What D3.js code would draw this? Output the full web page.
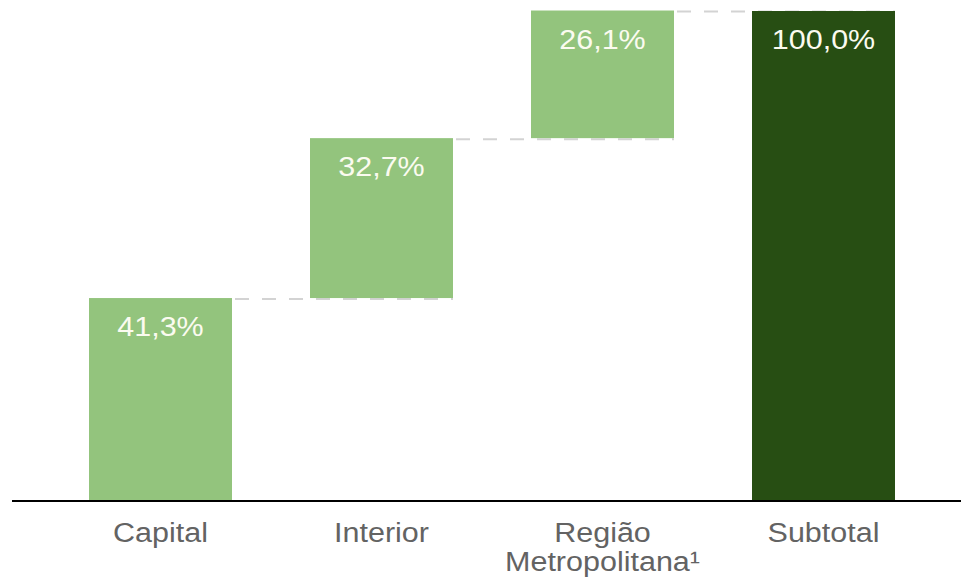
<!DOCTYPE html>
<html>
<head>
<meta charset="utf-8">
<script src="https://cdn.jsdelivr.net/npm/d3@7"></script>
<style>
  html, body { margin: 0; padding: 0; background: #ffffff; }
  svg { display: block; }
</style>
</head>
<body>
<svg id="chart" width="961" height="580"></svg>
<script>
const categories = ["Capital", "Interior", "Região Metropolitana¹", "Subtotal"];
const categoryLines = [["Capital"], ["Interior"], ["Região", "Metropolitana¹"], ["Subtotal"]];
const values = [41.3, 32.7, 26.1, 100.0];
const isTotal = [false, false, false, true];
const valueLabels = ["41,3%", "32,7%", "26,1%", "100,0%"];

const svg = d3.select("#chart");
const x = d3.scaleBand().domain(categories).range([50, 934]).paddingInner(0.353).paddingOuter(0.1765);
const y = d3.scaleLinear().domain([0, 100]).range([500, 11]);
const sx = 1.13;

let run = 0;
const bars = categories.map((c, i) => {
  let start, end;
  if (isTotal[i]) { start = 0; end = values[i]; }
  else { start = run; end = run + values[i]; run = end; }
  return { cat: c, start, end, label: valueLabels[i], total: isTotal[i], lines: categoryLines[i] };
});

// connectors
const conn = svg.append("g");
for (let i = 0; i < bars.length - 1; i++) {
  const lvl = bars[i].end;
  conn.append("line")
    .attr("x1", x(bars[i].cat) + x.bandwidth() + 3)
    .attr("x2", x(bars[i + 1].cat) + x.bandwidth())
    .attr("y1", y(lvl) + 1)
    .attr("y2", y(lvl) + 1)
    .attr("stroke", "#d3d3d3")
    .attr("stroke-width", 2)
    .attr("stroke-dasharray", "14,13");
}

// bars
svg.append("g").selectAll("rect").data(bars).join("rect")
  .attr("x", d => x(d.cat))
  .attr("width", x.bandwidth())
  .attr("y", d => y(d.end))
  .attr("height", d => y(d.start) - y(d.end))
  .attr("fill", d => d.total ? "#274e13" : "#93c47d");

// value labels
svg.append("g").selectAll("text").data(bars).join("text")
  .attr("transform", d => `translate(${x(d.cat) + x.bandwidth() / 2},${y(d.end) + 38}) scale(${sx},1)`)
  .attr("text-anchor", "middle")
  .attr("font-family", "'Liberation Sans', Arial, sans-serif")
  .attr("font-size", 27)
  .attr("fill", "#fbfbf0")
  .text(d => d.label);

// axis baseline
svg.append("line")
  .attr("x1", 12).attr("x2", 961)
  .attr("y1", 501).attr("y2", 501)
  .attr("stroke", "#000").attr("stroke-width", 2);

// category labels
const cl = svg.append("g").selectAll("text").data(bars).join("text")
  .attr("transform", d => `translate(${x(d.cat) + x.bandwidth() / 2},542) scale(${sx},1)`)
  .attr("text-anchor", "middle")
  .attr("font-family", "'Liberation Sans', Arial, sans-serif")
  .attr("font-size", 27)
  .attr("fill", "#636363");
cl.each(function(d) {
  const t = d3.select(this);
  d.lines.forEach((ln, k) => {
    t.append("tspan").attr("x", 0).attr("dy", k === 0 ? 0 : 29).text(ln);
  });
});
</script>
</body>
</html>
